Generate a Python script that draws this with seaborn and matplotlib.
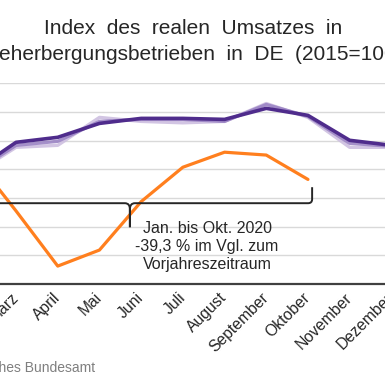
import numpy as np
import pandas as pd
import matplotlib
matplotlib.use("Agg")
import matplotlib.pyplot as plt
from matplotlib.path import Path
from matplotlib.patches import PathPatch
import seaborn as sns

# ---------------- data ----------------
months = ["Januar", "Februar", "März", "April", "Mai", "Juni", "Juli",
          "August", "September", "Oktober", "November", "Dezember"]
idx_2017 = [70, 77, 95.4, 96.8, 116.3, 113.5, 112.5, 113.5, 126.0, 116.3, 95.4, 95.4]
idx_2018 = [71, 78, 96.8, 99.6, 113.5, 114.9, 114.9, 113.5, 125.3, 117.0, 98.2, 96.1]
idx_2019 = [72, 79, 98.9, 102.4, 112.1, 115.6, 115.6, 114.9, 122.6, 117.7, 100.3, 96.8]
idx_2020 = [76, 88, 51.0, 12.5, 23.7, 57.5, 81.5, 92.0, 90.0, 73.0, np.nan, np.nan]

title_text = "Index  des  realen  Umsatzes  in\nBeherbergungsbetrieben  in  DE  (2015=100)"
note_text = "Jan. bis Okt. 2020\n-39,3 % im Vgl. zum\nVorjahreszeitraum"
source_text = "Quelle: Statistisches Bundesamt"

# bracket (Jan. - Okt.), in category / value units
brace_start, brace_end = 0.36, 9.1
brace_level = 56.4
note_x, note_y = 6.58, 26.3

# ---------------- style ----------------
sns.set_theme(style="white")
plt.rcParams["font.family"] = ["Liberation Sans", "DejaVu Sans"]

df = pd.DataFrame({
    "Monat": list(range(12)) * 4,
    "Index": idx_2017 + idx_2018 + idx_2019 + idx_2020,
    "Jahr": ["2017"] * 12 + ["2018"] * 12 + ["2019"] * 12 + ["2020"] * 12,
})
palette = {"2017": "#CDBFE0", "2018": "#9B84C4", "2019": "#4F2C8C", "2020": "#FF7F1E"}
widths = {"2017": 2.4, "2018": 2.4, "2019": 2.6, "2020": 2.3}

fig = plt.figure(figsize=(3.85, 3.85), dpi=100)
ax = fig.add_axes([-88.2 / 385, 101 / 385, 500.4 / 385, 201 / 385])

for yr in ["2017", "2018", "2019", "2020"]:
    sub = df[df["Jahr"] == yr]
    sns.lineplot(data=sub, x="Monat", y="Index", ax=ax, color=palette[yr],
                 linewidth=widths[yr], legend=False, zorder=3,
                 alpha=0.9 if yr in ("2017", "2018") else 1.0)

ax.set_xlim(-0.5, 11.5)
ax.set_ylim(0, 140.3)
ax.set_yticks(np.arange(0, 141, 20))
ax.yaxis.grid(True, color="#D9D9D9", linewidth=1.0)
ax.set_axisbelow(True)
ax.set_xlabel("")
ax.set_ylabel("")
for s in ["top", "right", "left"]:
    ax.spines[s].set_visible(False)
ax.spines["bottom"].set_color("#404040")
ax.spines["bottom"].set_linewidth(1.6)
ax.spines["bottom"].set_zorder(4)

ax.set_xticks(range(12))
ax.set_xticklabels(months, rotation=45, ha="right", va="center",
                   rotation_mode="anchor", fontsize=11.3, color="#262626")
ax.tick_params(axis="x", which="major", length=0, pad=8)
ax.set_xticks(np.arange(-0.5, 12, 1), minor=True)
ax.tick_params(axis="x", which="minor", length=5, width=1.4, color="#404040",
               direction="out")
ax.tick_params(axis="y", length=0, labelsize=11, colors="#262626")

# curly bracket
px_x = 41.7      # pixels per category
px_y = 201 / 140.3  # pixels per index point
def P(x, dxp, dyp):
    return (x + dxp / px_x, brace_level - dyp / px_y)
mid = (brace_start + brace_end) / 2
r = 4
verts = [
    P(brace_start, 0, -16), P(brace_start, 0, -r),
    P(brace_start, 0, 0), P(brace_start, r, 0),
    P(mid, -r - 1, 0),
    P(mid, 0, 0), P(mid, 0, 6),
    P(mid, 0, 24),
    P(mid, 0, 6),
    P(mid, 0, 0), P(mid, r + 1, 0),
    P(brace_end, -r, 0),
    P(brace_end, 0, 0), P(brace_end, 0, -r),
    P(brace_end, 0, -16),
]
codes = [Path.MOVETO, Path.LINETO,
         Path.CURVE3, Path.CURVE3,
         Path.LINETO,
         Path.CURVE3, Path.CURVE3,
         Path.LINETO,
         Path.LINETO,
         Path.CURVE3, Path.CURVE3,
         Path.LINETO,
         Path.CURVE3, Path.CURVE3,
         Path.LINETO]
ax.add_patch(PathPatch(Path(verts, codes), facecolor="none", edgecolor="#262626",
                       linewidth=1.4, zorder=5, clip_on=False))

ax.text(note_x, note_y, note_text, ha="center", va="center", fontsize=11.5,
        color="#262626", linespacing=1.26, zorder=6)

fig.text(193.5 / 385, 1 - 59.5 / 385, title_text, ha="center", va="baseline",
         fontsize=15, color="#262626", linespacing=1.4)
fig.text(95 / 385, 17 / 385, source_text, ha="right", va="center",
         fontsize=10, color="#7F7F7F")

fig.savefig("out.png", dpi=100)
